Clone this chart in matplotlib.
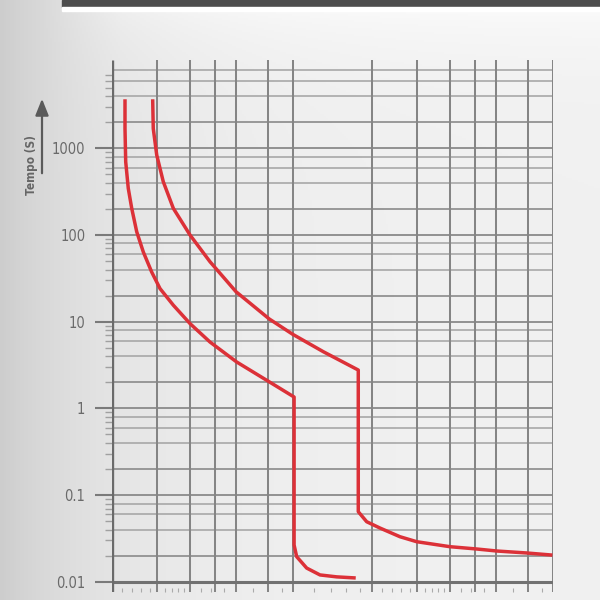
import numpy as np
from matplotlib import pyplot as plt
from matplotlib.patches import Rectangle

# NOTE: curve points (x = multiple of In, y = seconds)
curve_b_x = [1.125, 1.125, 1.132, 1.158, 1.194, 1.248, 1.323, 1.425, 1.534, 1.726,
             2.001, 2.388, 3.025, 3.947, 5.03, 5.03, 5.146, 5.623, 6.327, 7.335, 8.55]
curve_b_y = [3512, 1687, 700, 345.6, 203, 109, 63.7, 37.4, 24.1, 15.5,
             9.51, 5.83, 3.43, 2.11, 1.353, 0.0266, 0.0195, 0.0144, 0.0120, 0.0114, 0.0111]

curve_c_x = [1.438, 1.445, 1.49, 1.579, 1.726, 2.001, 2.388, 3.006, 4.039, 4.968,
             6.513, 8.88, 8.88, 9.568, 10.76, 12.85, 14.9, 20.01, 25.34, 30.26, 39.48, 48.81]
curve_c_y = [3512, 1687, 837, 412, 203, 100, 49.2, 22.2, 10.74, 7.16,
             4.51, 2.77, 0.0644, 0.0493, 0.0417, 0.0331, 0.029, 0.0254, 0.0239, 0.02266, 0.0215, 0.0204]

# NOTE: grid of the sheet
x_grid = [1.5, 2, 2.5, 3, 4, 5, 10, 15, 20, 25, 30, 40, 50]
x_minor = [1.1, 1.2, 1.3, 1.4, 1.6, 1.7, 1.8, 1.9, 2.2, 2.4, 2.7, 3.5, 4.5, 6, 7, 8, 9]
y_decades = [0.01, 0.1, 1, 10, 100, 1000]
y_labels = ['0.01', '0.1', '1', '10', '100', '1000']
y_grid_mult = [2, 4, 6, 8]

fig = plt.figure(figsize=(6, 6), dpi=100)

# background gradient
bg = fig.add_axes([0, 0, 1, 1])
xx, yy = np.meshgrid(np.linspace(0, 600, 300), np.linspace(0, 600, 300))
ramp = np.clip((xx - 40) / 80.0, 0, 1)
g = 0.945 - 0.14 * np.exp(-xx / 110.0) + 0.035 * np.exp(-np.clip(yy - 12, 0, None) / 45.0) * ramp
g = np.clip(g, 0, 1)
bg.imshow(np.dstack([g, g, g]), extent=[0, 1, 0, 1], aspect='auto', origin='upper')
bg.set_axis_off()
fig.patches.append(Rectangle((62 / 600, 1 - 7 / 600), 1, 7 / 600, transform=fig.transFigure,
                             color='#4d4d4d', zorder=5))
fig.patches.append(Rectangle((62 / 600, 1 - 11 / 600), 1, 4 / 600, transform=fig.transFigure,
                             color='#ffffff', zorder=5))

# NOTE: axes from y=60px to y=592px
ax = fig.add_axes([111.7 / 600, 8 / 600, 441.7 / 600, 532 / 600])
ax.set_facecolor('none')
ax.set_xscale('log')
ax.set_yscale('log')
dec = 86.7
ymin = 10 ** (-2 - (592 - 581.8) / dec)
ymax = 10 ** (3 + (148.3 - 60) / dec)
ax.set_xlim(1, 50)
ax.set_ylim(ymin, ymax)
for s in ax.spines.values():
    s.set_visible(False)

# horizontal lines
for d in y_decades:
    if d != 0.01:
        ax.hlines(d, 1, 50, color='#8a8a8a', lw=1.3, zorder=1)
    for m in y_grid_mult:
        v = d * m
        if v < ymax:
            c = '#8a8a8a' if m == 2 else '#a8a8a8'
            ax.hlines(v, 1, 50, color=c, lw=1.2, zorder=1)
ax.hlines(0.01, 1, 50, color='#717171', lw=2.2, zorder=2)

# vertical lines
ax.vlines(x_grid, ymin, ymax, color='#858585', lw=1.45, zorder=1)
ax.vlines(1, ymin, ymax, color='#6a6a6a', lw=2.4, zorder=2)

# curves
ax.plot(curve_b_x, curve_b_y, color='#dc3138', lw=2.5, zorder=4, solid_joinstyle='round')
ax.plot(curve_c_x, curve_c_y, color='#dc3138', lw=2.5, zorder=4, solid_joinstyle='round')

# ticks
ax.set_yticks(y_decades)
ax.set_yticklabels(y_labels, family=['Liberation Sans Narrow', 'DejaVu Sans'],
                   fontstretch='condensed', fontsize=10.5, color='#6a6a6a')
y_minor = [d * m for d in y_decades for m in range(2, 10) if d * m <= 7000]
ax.set_yticks(y_minor, minor=True)
ax.tick_params(axis='y', which='major', length=12, width=1.5, color='#7a7a7a', pad=7)
ax.tick_params(axis='y', which='minor', length=5, width=1.0, color='#a0a0a0')
ax.set_xticks([])
ax.set_xticks(x_minor + [v * 10 for v in x_minor if v * 10 < 50], minor=True)
ax.tick_params(axis='x', which='minor', length=3, width=0.8, color='#aaaaaa', direction='in',
               labelbottom=False)

# y axis title with arrow
fig.text(32 / 600, 1 - 165 / 600, 'Tempo (S)', rotation=90, ha='center', va='center',
         fontsize=8.5, fontweight='bold', color='#666666', fontstretch='condensed',
         family=['Liberation Sans Narrow', 'DejaVu Sans'])
fig.add_artist(plt.Annotation('', xy=(42 / 600, 1 - 96 / 600), xytext=(42 / 600, 1 - 176 / 600),
                              xycoords='figure fraction', textcoords='figure fraction',
                              arrowprops=dict(arrowstyle='-|>,head_width=0.4,head_length=1.0',
                                              color='#5a5a5a', lw=1.6)))

plt.savefig('out.png', dpi=100)
